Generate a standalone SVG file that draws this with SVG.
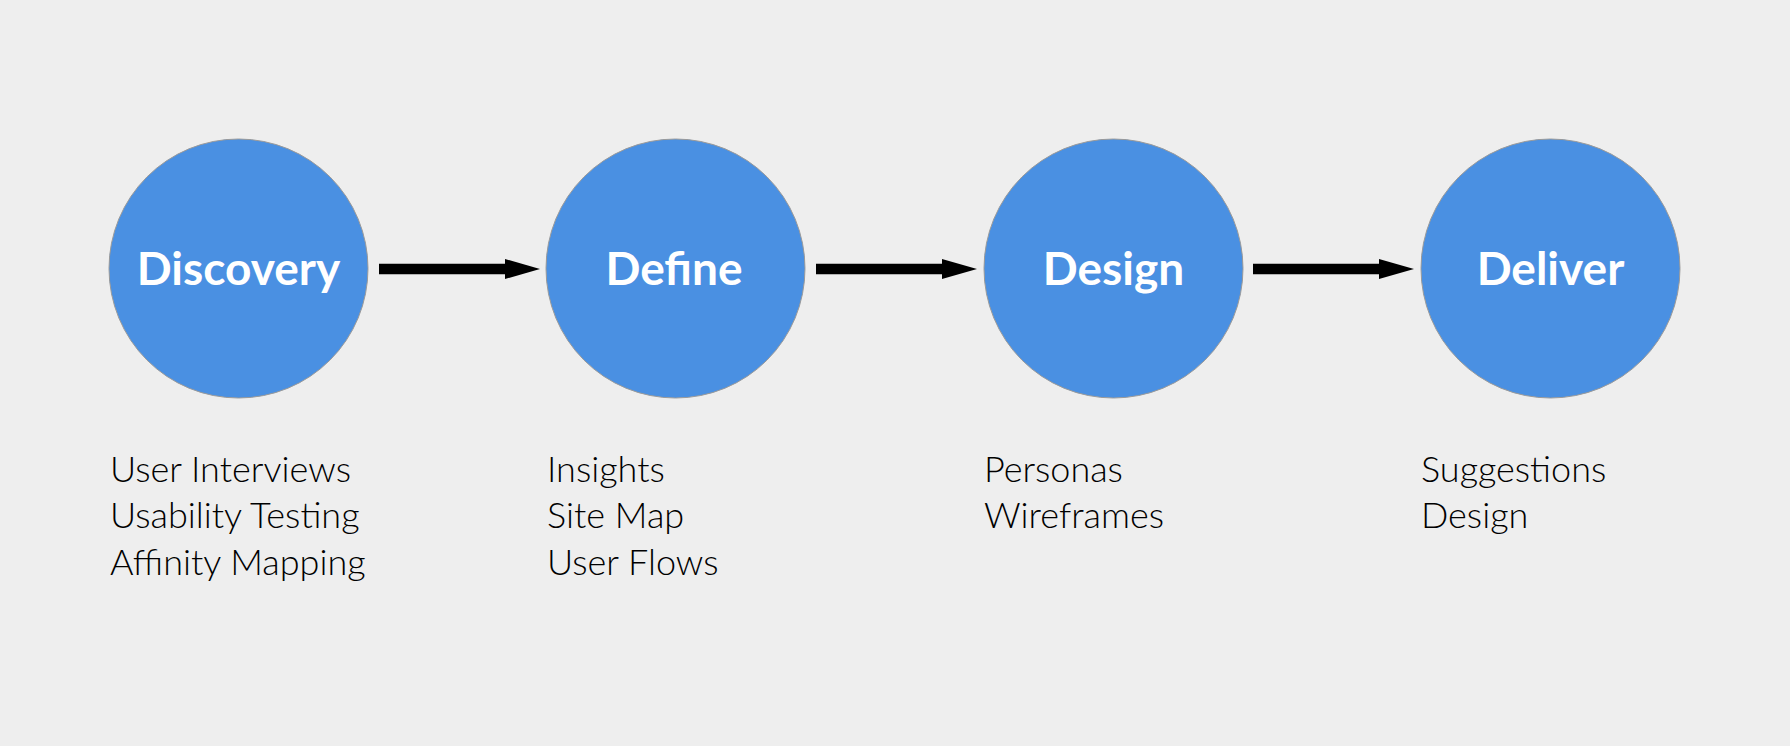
<svg xmlns="http://www.w3.org/2000/svg" width="1790" height="746" viewBox="0 0 1790 746">
  <defs>
    <marker id="arrow" markerUnits="userSpaceOnUse" viewBox="0 0 35 20" markerWidth="35" markerHeight="20" refX="1" refY="10" orient="auto">
      <path d="M0,0 L35,10 L0,20 Z" fill="#000"/>
    </marker>
    <style>
      .node circle { fill: #4A90E2; stroke: #9a9a9a; stroke-width: 1; }
      .title { font-family: Lato, "Liberation Sans", sans-serif; font-weight: 700; font-size: 46px; fill: #ffffff; text-anchor: middle; }
      .item { font-family: Lato, "Liberation Sans", sans-serif; font-weight: 300; font-size: 36px; fill: #000000; }
      .conn line { stroke: #000; stroke-width: 10.5; }
    </style>
  </defs>
  <rect width="1790" height="746" fill="#EEEEEE"/>
  <g id="connectors" class="conn">
    <line x1="379" y1="269" x2="506" y2="269" marker-end="url(#arrow)"/>
    <line x1="816" y1="269" x2="943" y2="269" marker-end="url(#arrow)"/>
    <line x1="1253" y1="269" x2="1380" y2="269" marker-end="url(#arrow)"/>
  </g>
  <g id="discovery" class="node">
    <circle cx="238.5" cy="268.5" r="129.5"/>
    <text class="title" x="238.5" y="284.5">Discovery</text>
    <text class="item" x="110" y="482">User Interviews</text>
    <text class="item" x="110" y="528">Usability Testing</text>
    <text class="item" x="110" y="574.5">Affinity Mapping</text>
  </g>
  <g id="define" class="node">
    <circle cx="675.5" cy="268.5" r="129.5"/>
    <text class="title" x="674" y="284.5">Define</text>
    <text class="item" x="547" y="482">Insights</text>
    <text class="item" x="547" y="528">Site Map</text>
    <text class="item" x="547" y="574.5">User Flows</text>
  </g>
  <g id="design" class="node">
    <circle cx="1113.5" cy="268.5" r="129.5"/>
    <text class="title" x="1113.5" y="284.5">Design</text>
    <text class="item" x="984" y="482">Personas</text>
    <text class="item" x="984" y="528">Wireframes</text>
  </g>
  <g id="deliver" class="node">
    <circle cx="1550.5" cy="268.5" r="129.5"/>
    <text class="title" x="1550.5" y="284.5">Deliver</text>
    <text class="item" x="1421" y="482">Suggestions</text>
    <text class="item" x="1421" y="528">Design</text>
  </g>
</svg>
